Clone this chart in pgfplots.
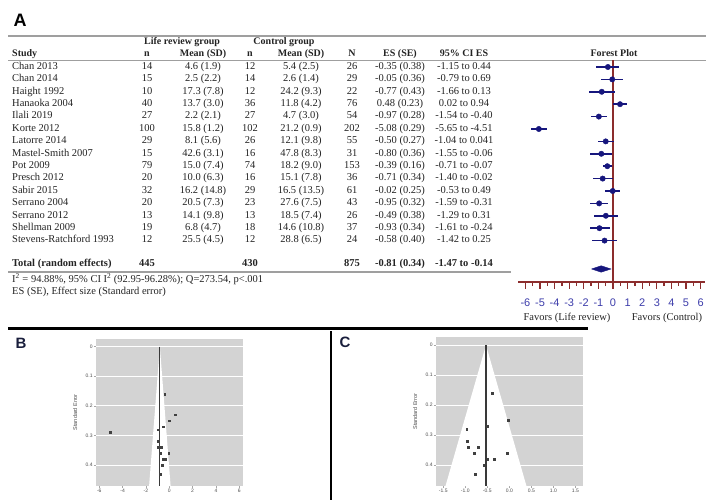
\documentclass[border=0pt]{standalone}
\usepackage{pgfplots}
\pgfplotsset{compat=1.18}
\usepackage{pgfplotstable}
\usepackage{fontspec}
\setmainfont{Liberation Serif}
\setsansfont{Liberation Sans}
\definecolor{navyb}{RGB}{22,22,125}
\definecolor{axred}{RGB}{140,45,45}
\definecolor{tickblue}{RGB}{60,60,170}
\definecolor{txt}{RGB}{35,35,35}
\definecolor{panel}{RGB}{211,211,211}
\definecolor{lab}{RGB}{25,30,60}

% forest plot data: row, effect size, CI low, CI high, SE
\pgfplotstableread{
row es lo hi se
-1 -0.35 -1.15 0.44 0.38
-2 -0.05 -0.79 0.69 0.36
-3 -0.77 -1.66 0.13 0.43
-4 0.48 0.02 0.94 0.23
-5 -0.97 -1.54 -0.40 0.28
-6 -5.08 -5.65 -4.51 0.29
-7 -0.50 -1.04 0.041 0.27
-8 -0.80 -1.55 -0.06 0.36
-9 -0.39 -0.71 -0.07 0.16
-10 -0.71 -1.40 -0.02 0.34
-11 -0.02 -0.53 0.49 0.25
-12 -0.95 -1.59 -0.31 0.32
-13 -0.49 -1.29 0.31 0.38
-14 -0.93 -1.61 -0.24 0.34
-15 -0.58 -1.42 0.25 0.40
}\forestdata

% trimmed set (without Hanaoka and Korte)
\pgfplotstableread{
es se
-0.35 0.38
-0.05 0.36
-0.77 0.43
-0.97 0.28
-0.50 0.27
-0.80 0.36
-0.39 0.16
-0.71 0.34
-0.02 0.25
-0.95 0.32
-0.49 0.38
-0.93 0.34
-0.58 0.40
}\trimdata

\newcommand{\tf}{\fontsize{10.5}{12}\selectfont}
\newcommand{\hf}{\fontsize{10}{12}\selectfont}

\begin{document}
\begin{tikzpicture}
\useasboundingbox (0pt,0pt) rectangle (706pt,-500pt);

% ---------- Panel A : table ----------
\node[font=\sffamily\bfseries\fontsize{18}{18}\selectfont, text=black] at (20pt,-20pt) {A};
\draw[gray!75, line width=1.4pt] (8pt,-36pt) -- (706pt,-36pt);
\draw[gray!75, line width=1.4pt] (8pt,-60.5pt) -- (706pt,-60.5pt);

\begin{scope}[every node/.style={font=\hf\bfseries, text=txt, inner sep=0pt}]
\node[anchor=mid] at (182pt,-42.5pt) {Life review group};
\node[anchor=mid] at (284pt,-42.5pt) {Control group};
\node[anchor=mid west] at (12pt,-54pt) {Study};
\node[anchor=mid] at (147pt,-54pt) {n};
\node[anchor=mid] at (203pt,-54pt) {Mean (SD)};
\node[anchor=mid] at (250pt,-54pt) {n};
\node[anchor=mid] at (301pt,-54pt) {Mean (SD)};
\node[anchor=mid] at (352pt,-54pt) {N};
\node[anchor=mid] at (400pt,-54pt) {ES (SE)};
\node[anchor=mid] at (464pt,-54pt) {95\% CI ES};
\node[anchor=mid] at (614pt,-54pt) {Forest Plot};
\end{scope}

\begin{scope}[every node/.style={font=\tf, text=txt, inner sep=0pt}]
\foreach \st/\na/\ma/\nb/\mb/\nn/\ee/\ci [count=\i] in {
Chan 2013/14/4.6 (1.9)/12/5.4 (2.5)/26/-0.35 (0.38)/-1.15 to 0.44,
Chan 2014/15/2.5 (2.2)/14/2.6 (1.4)/29/-0.05 (0.36)/-0.79 to 0.69,
Haight 1992/10/17.3 (7.8)/12/24.2 (9.3)/22/-0.77 (0.43)/-1.66 to 0.13,
Hanaoka 2004/40/13.7 (3.0)/36/11.8 (4.2)/76/0.48 (0.23)/0.02 to 0.94,
Ilali 2019/27/2.2 (2.1)/27/4.7 (3.0)/54/-0.97 (0.28)/-1.54 to -0.40,
Korte 2012/100/15.8 (1.2)/102/21.2 (0.9)/202/-5.08 (0.29)/-5.65 to -4.51,
Latorre 2014/29/8.1 (5.6)/26/12.1 (9.8)/55/-0.50 (0.27)/-1.04 to 0.041,
Mastel-Smith 2007/15/42.6 (3.1)/16/47.8 (8.3)/31/-0.80 (0.36)/-1.55 to -0.06,
Pot 2009/79/15.0 (7.4)/74/18.2 (9.0)/153/-0.39 (0.16)/-0.71 to -0.07,
Presch 2012/20/10.0 (6.3)/16/15.1 (7.8)/36/-0.71 (0.34)/-1.40 to -0.02,
Sabir 2015/32/16.2 (14.8)/29/16.5 (13.5)/61/-0.02 (0.25)/-0.53 to 0.49,
Serrano 2004/20/20.5 (7.3)/23/27.6 (7.5)/43/-0.95 (0.32)/-1.59 to -0.31,
Serrano 2012/13/14.1 (9.8)/13/18.5 (7.4)/26/-0.49 (0.38)/-1.29 to 0.31,
Shellman 2009/19/6.8 (4.7)/18/14.6 (10.8)/37/-0.93 (0.34)/-1.61 to -0.24,
Stevens-Ratchford 1993/12/25.5 (4.5)/12/28.8 (6.5)/24/-0.58 (0.40)/-1.42 to 0.25}
{
  \pgfmathsetmacro{\yy}{-(67+(\i-1)*12.4)}
  \node[anchor=mid west] at (12pt,\yy pt) {\st};
  \node[anchor=mid] at (147pt,\yy pt) {\na};
  \node[anchor=mid] at (203pt,\yy pt) {\ma};
  \node[anchor=mid] at (250pt,\yy pt) {\nb};
  \node[anchor=mid] at (301pt,\yy pt) {\mb};
  \node[anchor=mid] at (352pt,\yy pt) {\nn};
  \node[anchor=mid] at (400pt,\yy pt) {\ee};
  \node[anchor=mid] at (464pt,\yy pt) {\ci};
}
\end{scope}

\begin{scope}[every node/.style={font=\tf\bfseries, text=txt, inner sep=0pt}]
\node[anchor=mid west] at (12pt,-264pt) {Total (random effects)};
\node[anchor=mid] at (147pt,-264pt) {445};
\node[anchor=mid] at (250pt,-264pt) {430};
\node[anchor=mid] at (352pt,-264pt) {875};
\node[anchor=mid] at (400pt,-264pt) {-0.81 (0.34)};
\node[anchor=mid] at (464pt,-264pt) {-1.47 to -0.14};
\end{scope}
\draw[gray!75, line width=1.6pt] (8pt,-272pt) -- (511pt,-272pt);
\node[font=\tf, text=txt, inner sep=0pt, anchor=mid west] at (12pt,-280pt) {I\textsuperscript{2} = 94.88\%, 95\% CI I\textsuperscript{2} (92.95-96.28\%); Q=273.54, p<.001};
\node[font=\tf, text=txt, inner sep=0pt, anchor=mid west] at (12pt,-292pt) {ES (SE), Effect size (Standard error)};

% ---------- Forest plot ----------
\begin{axis}[
  at={(518.1pt,-60.5pt)}, anchor=north west,
  scale only axis, width=186.9pt, height=221.5pt,
  xmin=-6.5, xmax=6.3, ymin=-18.34, ymax=-0.476,
  axis x line=bottom, axis y line=none,
  x axis line style={-, draw=axred, line width=1.6pt},
  xtick={-6,-5,-4,-3,-2,-1,0,1,2,3,4,5,6},
  xticklabels={-6,-5,-4,-3,-2,-1,0,1,2,3,4,5,6},
  minor x tick num=1,
  tick align=outside, major tick length=6.5pt, minor tick length=4pt,
  tick style={axred, line width=1.3pt},
  xticklabel style={font=\sffamily\fontsize{11}{12}\selectfont, text=tickblue, inner sep=0pt},
  xticklabel shift=10pt,
  clip=false,
]
\addplot[axred, line width=1.3pt] coordinates {(0,-0.476) (0,-18.34)};
\addplot[only marks, mark=*, mark size=2.7pt, navyb, mark options={fill=navyb, draw=navyb},
  error bars/.cd, x dir=both, x explicit, error mark=none,
  error bar style={line width=1.7pt, navyb}]
  table[x=es, y=row, x error plus expr=\thisrow{hi}-\thisrow{es}, x error minus expr=\thisrow{es}-\thisrow{lo}] {\forestdata};
\addplot[fill=navyb, draw=navyb] coordinates {(-1.47,-17.29) (-0.81,-17.03) (-0.14,-17.29) (-0.81,-17.55) (-1.47,-17.29)};
\end{axis}
\node[font=\tf, text=txt, inner sep=0pt, anchor=mid] at (567pt,-318.5pt) {Favors (Life review)};
\node[font=\tf, text=txt, inner sep=0pt, anchor=mid] at (667pt,-318.5pt) {Favors (Control)};

% ---------- separators ----------
\draw[black, line width=3pt] (8pt,-328pt) -- (588pt,-328pt);
\draw[black, line width=2pt] (331pt,-331pt) -- (331pt,-500pt);
\node[font=\sffamily\bfseries\fontsize{15}{15}\selectfont, text=lab] at (21pt,-343pt) {B};
\node[font=\sffamily\bfseries\fontsize{15}{15}\selectfont, text=lab] at (345pt,-342pt) {C};

% ---------- Funnel B ----------
\begin{axis}[
  at={(95.8pt,-338.5pt)}, anchor=north west,
  scale only axis, width=147pt, height=147.5pt,
  xmin=-6.3, xmax=6.3, ymin=-0.027, ymax=0.47, y dir=reverse,
  axis background/.style={fill=panel},
  axis line style={draw=none},
  tick pos=left,
  xtick={-6,-4,-2,0,2,4,6}, xticklabels={-6,-4,-2,0,2,4,6},
  ytick={0,0.1,0.2,0.3,0.4}, yticklabels={0,0.1,0.2,0.3,0.4},
  ymajorgrids, major grid style={white, line width=0.9pt},
  tick align=outside, major tick length=2pt, tick style={gray!70, thin},
  ticklabel style={font=\sffamily\fontsize{5}{6}\selectfont, text=gray!60!black, inner sep=1pt},
  ylabel={Standard Error},
  every axis y label/.style={at={(axis description cs:-0.14,0.5)}, rotate=90, anchor=center, font=\sffamily\fontsize{5.5}{6}\selectfont, text=gray!60!black},
  clip=false,
]
\addplot[fill=white, draw=none] coordinates {(-0.81,0) (-1.731,0.47) (0.111,0.47) (-0.81,0)};
\addplot[gray!45!black, line width=1.1pt] coordinates {(-0.81,0) (-0.81,0.47)};
\addplot[only marks, mark=square*, mark size=0.9pt, black!75] table[x=es, y=se] {\forestdata};
\end{axis}

% ---------- Funnel C ----------
\begin{axis}[
  at={(435.8pt,-337pt)}, anchor=north west,
  scale only axis, width=147pt, height=149pt,
  xmin=-1.67, xmax=1.67, ymin=-0.027, ymax=0.47, y dir=reverse,
  axis background/.style={fill=panel},
  axis line style={draw=none},
  tick pos=left,
  xtick={-1.5,-1,-0.5,0,0.5,1,1.5}, xticklabels={-1.5,-1.0,-0.5,0.0,0.5,1.0,1.5},
  ytick={0,0.1,0.2,0.3,0.4}, yticklabels={0,0.1,0.2,0.3,0.4},
  ymajorgrids, major grid style={white, line width=0.9pt},
  tick align=outside, major tick length=2pt, tick style={gray!70, thin},
  ticklabel style={font=\sffamily\fontsize{5}{6}\selectfont, text=gray!60!black, inner sep=1pt},
  ylabel={Standard Error},
  every axis y label/.style={at={(axis description cs:-0.14,0.5)}, rotate=90, anchor=center, font=\sffamily\fontsize{5.5}{6}\selectfont, text=gray!60!black},
  clip=false,
]
\addplot[fill=white, draw=none] coordinates {(-0.53,0) (-1.45,0.47) (0.39,0.47) (-0.53,0)};
\addplot[gray!45!black, line width=1.1pt] coordinates {(-0.53,0) (-0.53,0.47)};
\addplot[only marks, mark=square*, mark size=0.9pt, black!75] table[x=es, y=se] {\trimdata};
\end{axis}
\end{tikzpicture}
\end{document}
